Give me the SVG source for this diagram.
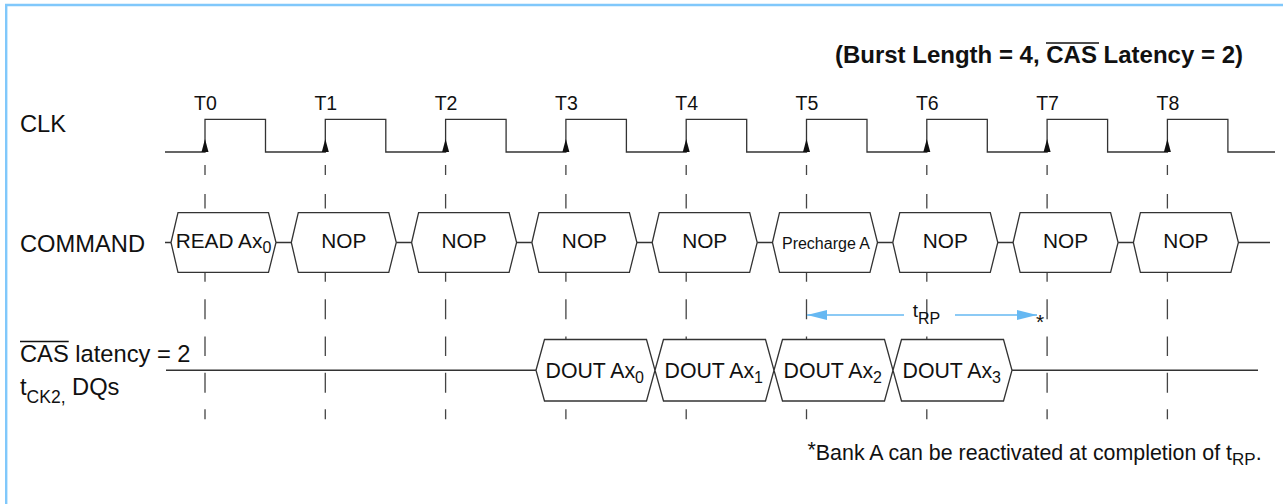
<svg xmlns="http://www.w3.org/2000/svg" width="1283" height="504" viewBox="0 0 1283 504">
<defs>
<style>
text{font-family:"Liberation Sans",Arial,sans-serif;fill:#111}
.lbl{font-size:23.7px}
.tl{font-size:19.5px;text-anchor:middle}
.cmd{font-size:20.8px;text-anchor:middle}
.pre{font-size:16px;text-anchor:middle}
.dout{font-size:21.3px}
.sub{font-size:16px}
.box{fill:#fff;stroke:#333;stroke-width:1.3}
.wire{fill:none;stroke:#333;stroke-width:1.3}
.dash{fill:none;stroke:#444;stroke-width:1.3}
.blue{fill:none;stroke:#66b8f2;stroke-width:1.4}
.ov{stroke:#111;stroke-width:1.6}
</style>
<marker id="ah" viewBox="0 0 20 10" refX="20" refY="5" markerWidth="20" markerHeight="10" markerUnits="userSpaceOnUse" orient="auto">
<path d="M0,0 L20,5 L0,10 Z" fill="#66b8f2"/>
</marker>
</defs>
<rect x="0" y="0" width="1283" height="504" fill="#fff"/>
<path d="M6.2,504 V5 H1283" fill="none" stroke="#80c8fb" stroke-width="2.4"/>

<g id="title">
<text x="1243" y="62.7" font-size="24" font-weight="bold" text-anchor="end">(Burst Length = 4, CAS Latency = 2)</text>
<line class="ov" x1="1046" y1="43" x2="1099" y2="43" stroke-width="1.8"/>
</g>

<g id="row-labels">
<text class="lbl" x="20" y="131.7">CLK</text>
<text class="lbl" x="20" y="251.7">COMMAND</text>
<text class="lbl" x="20" y="362">CAS latency = 2</text>
<line class="ov" x1="20" y1="341.5" x2="68.7" y2="341.5"/>
<text class="lbl" x="20" y="395">t<tspan font-size="17.5" dy="8">CK2,</tspan><tspan dy="-8"> DQs</tspan></text>
</g>

<g id="clock-labels">
<text class="tl" x="205.5" y="110">T0</text>
<text class="tl" x="325.8" y="110">T1</text>
<text class="tl" x="446.1" y="110">T2</text>
<text class="tl" x="566.4" y="110">T3</text>
<text class="tl" x="686.7" y="110">T4</text>
<text class="tl" x="807" y="110">T5</text>
<text class="tl" x="927.3" y="110">T6</text>
<text class="tl" x="1047.6" y="110">T7</text>
<text class="tl" x="1167.9" y="110">T8</text>
</g>

<g id="gridlines" class="dash">
<path d="M205,165V175M205,194V208.5M205,272.3V281.7M205,299.3V319.3M205,336.5V356M205,372.7V392.7M205,409.3V419.3"/>
<path d="M325.3,165V175M325.3,194V208.5M325.3,272.3V281.7M325.3,299.3V319.3M325.3,336.5V356M325.3,372.7V392.7M325.3,409.3V419.3"/>
<path d="M445.6,165V175M445.6,194V208.5M445.6,272.3V281.7M445.6,299.3V319.3M445.6,336.5V356M445.6,372.7V392.7M445.6,409.3V419.3"/>
<path d="M565.9,165V175M565.9,194V208.5M565.9,272.3V281.7M565.9,299.3V319.3M565.9,336.5V356M565.9,372.7V392.7M565.9,409.3V419.3"/>
<path d="M686.2,165V175M686.2,194V208.5M686.2,272.3V281.7M686.2,299.3V319.3M686.2,336.5V356M686.2,372.7V392.7M686.2,409.3V419.3"/>
<path d="M806.5,165V175M806.5,194V208.5M806.5,272.3V281.7M806.5,299.3V319.3M806.5,336.5V356M806.5,372.7V392.7M806.5,409.3V419.3"/>
<path d="M926.8,165V175M926.8,194V208.5M926.8,272.3V281.7M926.8,299.3V319.3M926.8,336.5V356M926.8,372.7V392.7M926.8,409.3V419.3"/>
<path d="M1047.1,165V175M1047.1,194V208.5M1047.1,272.3V281.7M1047.1,299.3V319.3M1047.1,336.5V356M1047.1,372.7V392.7M1047.1,409.3V419.3"/>
<path d="M1167.4,165V175M1167.4,194V208.5M1167.4,272.3V281.7M1167.4,299.3V319.3M1167.4,336.5V356M1167.4,372.7V392.7M1167.4,409.3V419.3"/>
</g>

<g id="connectors">
<path id="clk-wave" class="wire" d="M165,152 H205 V119.3 H265.5 V152 H325.3 V119.3 H385.8 V152 H445.6 V119.3 H506.1 V152 H565.9 V119.3 H626.4 V152 H686.2 V119.3 H746.7 V152 H806.5 V119.3 H867 V152 H926.8 V119.3 H987.3 V152 H1047.1 V119.3 H1107.6 V152 H1167.4 V119.3 H1227.9 V152 H1275"/>
<g id="clk-edges" fill="#111">
<polygon points="205,139 201.5,152 208.5,152"/>
<polygon points="325.3,139 321.8,152 328.8,152"/>
<polygon points="445.6,139 442.1,152 449.1,152"/>
<polygon points="565.9,139 562.4,152 569.4,152"/>
<polygon points="686.2,139 682.7,152 689.7,152"/>
<polygon points="806.5,139 803,152 810,152"/>
<polygon points="926.8,139 923.3,152 930.3,152"/>
<polygon points="1047.1,139 1043.6,152 1050.6,152"/>
<polygon points="1167.4,139 1163.9,152 1170.9,152"/>
</g>
<path id="cmd-bus" class="wire" d="M165,242.5H171M276,242.5H291.3M396.3,242.5H411.6M516.6,242.5H531.9M636.9,242.5H652.2M757.2,242.5H772.5M877.5,242.5H892.8M997.8,242.5H1013.1M1118.1,242.5H1133.4M1238.4,242.5H1270"/>
<path id="dq-bus" class="wire" d="M166,370.25H536M1012,370.25H1258"/>
<g id="trp">
<line class="blue" x1="904" y1="315" x2="807" y2="315" marker-end="url(#ah)"/>
<line class="blue" x1="955" y1="315" x2="1037" y2="315" marker-end="url(#ah)"/>
<text x="912.7" y="317" font-size="19">t<tspan font-size="16" dy="6.5">RP</tspan></text>
<text x="1036" y="329" font-size="21">*</text>
</g>
</g>

<g id="cmd-t0"><polygon class="box" points="171,242.5 178,212.7 268.5,212.7 276,242.5 268.5,272.3 178,272.3"/><text class="cmd" x="223.5" y="248.3">READ Ax<tspan class="sub" dy="5">0</tspan></text></g>
<g id="cmd-t1"><polygon class="box" points="291.3,242.5 298.3,212.7 388.8,212.7 396.3,242.5 388.8,272.3 298.3,272.3"/><text class="cmd" x="343.8" y="248.3">NOP</text></g>
<g id="cmd-t2"><polygon class="box" points="411.6,242.5 418.6,212.7 509.1,212.7 516.6,242.5 509.1,272.3 418.6,272.3"/><text class="cmd" x="464.1" y="248.3">NOP</text></g>
<g id="cmd-t3"><polygon class="box" points="531.9,242.5 538.9,212.7 629.4,212.7 636.9,242.5 629.4,272.3 538.9,272.3"/><text class="cmd" x="584.4" y="248.3">NOP</text></g>
<g id="cmd-t4"><polygon class="box" points="652.2,242.5 659.2,212.7 749.7,212.7 757.2,242.5 749.7,272.3 659.2,272.3"/><text class="cmd" x="704.7" y="248.3">NOP</text></g>
<g id="cmd-t5"><polygon class="box" points="772.5,242.5 779.5,212.7 870,212.7 877.5,242.5 870,272.3 779.5,272.3"/><text class="pre" x="826" y="249.3">Precharge A</text></g>
<g id="cmd-t6"><polygon class="box" points="892.8,242.5 899.8,212.7 990.3,212.7 997.8,242.5 990.3,272.3 899.8,272.3"/><text class="cmd" x="945.3" y="248.3">NOP</text></g>
<g id="cmd-t7"><polygon class="box" points="1013.1,242.5 1020.1,212.7 1110.6,212.7 1118.1,242.5 1110.6,272.3 1020.1,272.3"/><text class="cmd" x="1065.6" y="248.3">NOP</text></g>
<g id="cmd-t8"><polygon class="box" points="1133.4,242.5 1140.4,212.7 1230.9,212.7 1238.4,242.5 1230.9,272.3 1140.4,272.3"/><text class="cmd" x="1185.9" y="248.3">NOP</text></g>

<g id="dq-0"><polygon class="box" points="536,370.25 544.5,339.5 646.5,339.5 655,370.25 646.5,401 544.5,401"/><text class="dout" x="545.5" y="378.3">DOUT Ax<tspan class="sub" dy="5">0</tspan></text></g>
<g id="dq-1"><polygon class="box" points="655,370.25 663.5,339.5 765.5,339.5 774,370.25 765.5,401 663.5,401"/><text class="dout" x="664.5" y="378.3">DOUT Ax<tspan class="sub" dy="5">1</tspan></text></g>
<g id="dq-2"><polygon class="box" points="774,370.25 782.5,339.5 884.5,339.5 893,370.25 884.5,401 782.5,401"/><text class="dout" x="783.5" y="378.3">DOUT Ax<tspan class="sub" dy="5">2</tspan></text></g>
<g id="dq-3"><polygon class="box" points="893,370.25 901.5,339.5 1003.5,339.5 1012,370.25 1003.5,401 901.5,401"/><text class="dout" x="902.5" y="378.3">DOUT Ax<tspan class="sub" dy="5">3</tspan></text></g>

<g id="footnote">
<text x="807.5" y="460" font-size="21.4"><tspan dy="-3">*</tspan><tspan dy="3">Bank A can be reactivated at completion of t</tspan><tspan font-size="17" dy="5">RP</tspan><tspan dy="-5">.</tspan></text>
</g>
</svg>
